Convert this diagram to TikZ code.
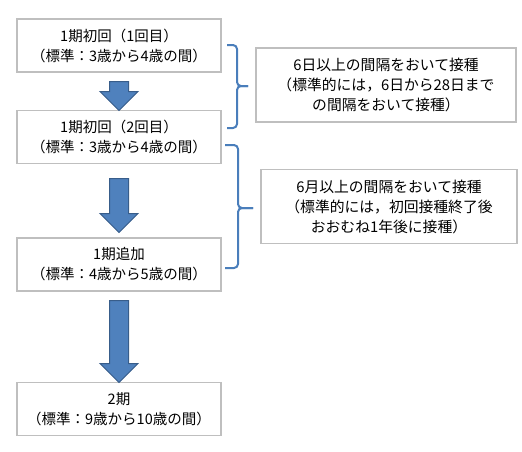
\documentclass[tikz,border=0pt]{standalone}
\usepackage{fontspec}
\setmainfont{Noto Sans CJK JP}
\usetikzlibrary{calc}
\usetikzlibrary{positioning}
\usetikzlibrary{shapes.arrows}
\definecolor{boxgray}{RGB}{191,191,191}
\definecolor{flowblue}{RGB}{79,129,189}
\definecolor{flowedge}{RGB}{56,93,138}
\definecolor{braceblue}{RGB}{74,126,187}

\begin{document}
\begin{tikzpicture}[x=1pt,y=-1pt,
  stage/.style={draw=boxgray,line width=1.5pt,minimum width=204pt,minimum height=53pt,inner sep=0pt,align=center,font=\fontsize{14.5}{20}\selectfont},
  note/.style={draw=boxgray,line width=1.5pt,minimum height=74pt,inner sep=0pt,align=center,font=\fontsize{14.8}{20}\selectfont},
  flow/.style={single arrow,draw=flowedge,fill=flowblue,line width=1pt,rotate=-90,inner sep=9pt,minimum width=37pt,single arrow head extend=9.5pt},
  brace/.style={draw=braceblue,line width=2pt,rounded corners=4pt}]

  \useasboundingbox (0,0) rectangle (522,451);

  \node[stage] (s1) at (119,45.5) {1期初回（1回目）\\（標準：3歳から4歳の間）};
  \node[stage,below=37pt of s1] (s2) {1期初回（2回目）\\（標準：3歳から4歳の間）};
  \node[stage,below=73pt of s2] (s3) {1期追加\\（標準：4歳から5歳の間）};
  \node[stage,below=90pt of s3] (s4) {2期\\（標準：9歳から10歳の間）};

  \foreach \a/\b/\len in {s1/s2/29pt,s2/s3/54pt,s3/s4/82pt}
    \node[flow,minimum height=\len] (\a\b) at ($(\a.south)!0.5!(\b.north)$) {};

  \node[note,minimum width=260pt] (n1) at (386,85) {6日以上の間隔をおいて接種\\（標準的には，6日から28日まで\\の間隔をおいて接種）};
  \node[note,minimum width=256pt] (n2) at (389,206.5) {6月以上の間隔をおいて接種\\（標準的には，初回接種終了後\\おおむね1年後に接種）};

  % braces
  \draw[brace] (227,45) -- (237,45) -- (237,86) -- (248,86);
  \draw[brace] (248,86) -- (237,86) -- (237,128) -- (227,128);
  \draw[brace] (225,145) -- (238,145) -- (238,208) -- (253,208);
  \draw[brace] (253,208) -- (238,208) -- (238,268) -- (225,268);

\end{tikzpicture}
\end{document}
